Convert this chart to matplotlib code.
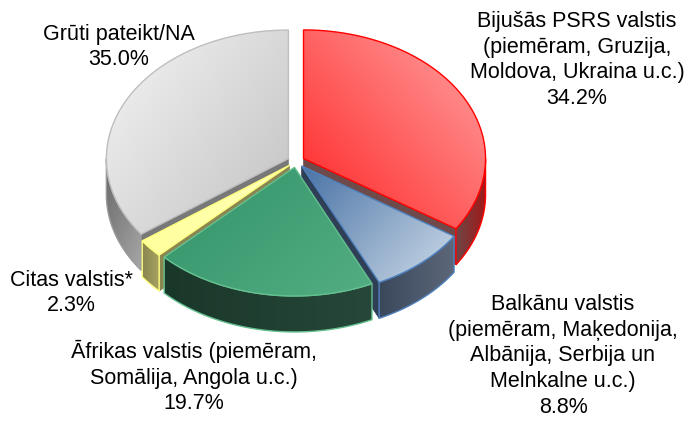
import numpy as np
import matplotlib
matplotlib.use("Agg")
import matplotlib.pyplot as plt
from matplotlib.patches import Polygon
from matplotlib.colors import LinearSegmentedColormap

# data, clockwise from 12 o'clock
labels = ["Bijušās PSRS valstis\n(piemēram, Gruzija,\nMoldova, Ukraina u.c.)",
          "Balkānu valstis\n(piemēram, Maķedonija,\nAlbānija, Serbija un\nMelnkalne u.c.)",
          "Āfrikas valstis (piemēram,\nSomālija, Angola u.c.)",
          "Citas valstis*",
          "Grūti pateikt/NA"]
values = [34.2, 8.8, 19.7, 2.3, 35.0]

# colours: top (c1, c2), wall (c1, c2), radial face, edge
top_cols = [("#ff2424", "#ffa3a3"), ("#4a73a6", "#cddbe8"), ("#33936a", "#53ad82"),
            ("#ffff9c", "#ffffb8"), ("#f4f4f4", "#c2c2c2")]
wall_cols = [("#6e4646", "#a31818"), ("#3b485c", "#5c6779"), ("#1a382a", "#26473a"),
             ("#88854f", "#a6a262"), ("#686868", "#a6a6a6")]
face_cols = ["#6e4a4a", "#2e3f56", "#1c3a2c", "#8a8652", "#787878"]
edge_cols = ["#ff0000", "#4f81bd", "#64c08e", "#ffff80", "#bebebe"]
label_pos = [(577, 60), (563, 356), (194, 377), (71, 293), (119, 47)]

cx, cy = 296, 161.4
rx, ry = 182, 128.6
depth = 36
explode = 0.047

fig = plt.figure(figsize=(6.87, 4.21), dpi=100)
ax = fig.add_axes([0, 0, 1, 1])
ax.axis("off")


def pt(ang, ox, oy, r=1.0, dz=0):
    a = np.radians(ang)
    return ox + rx * r * np.sin(a), oy - ry * r * np.cos(a) + dz


def grad_poly(xs, ys, c1, c2, direction, edge, z):
    poly = Polygon(np.c_[xs, ys], closed=True, facecolor="none",
                   edgecolor=edge, lw=1.0, zorder=z + 0.5)
    ax.add_patch(poly)
    x0, x1 = min(xs), max(xs)
    y0, y1 = min(ys), max(ys)
    gx, gy = np.meshgrid(np.linspace(0, 1, 60), np.linspace(0, 1, 60))
    d = np.radians(direction)
    t = gx * np.cos(d) + gy * np.sin(d)
    t = (t - t.min()) / (t.max() - t.min() + 1e-9)
    cmap = LinearSegmentedColormap.from_list("g", [c1, c2])
    im = ax.imshow(t, extent=(x0, x1, y1, y0), origin="upper", cmap=cmap,
                   aspect="auto", interpolation="bilinear", zorder=z)
    im.set_clip_path(poly)


bounds = np.concatenate([[0], np.cumsum(values)]) / sum(values) * 360
slices = []
for i in range(len(values)):
    a1, a2 = bounds[i], bounds[i + 1]
    mid = (a1 + a2) / 2
    ox, oy = pt(mid, cx, cy, explode)
    slices.append((i, a1, a2, mid, ox, oy))

# walls, back to front
order = sorted(slices, key=lambda s: -np.cos(np.radians(s[3])))
z = 1
for i, a1, a2, mid, ox, oy in order:
    # radial cut faces
    for a, nrm in ((a1, a1 - 90), (a2, a2 + 90)):
        if np.cos(np.radians(nrm)) < -0.05:
            rxp, ryp = pt(a, ox, oy)
            xs = [ox, rxp, rxp, ox]
            ys = [oy, ryp, ryp + depth, oy + depth]
            ax.add_patch(Polygon(np.c_[xs, ys], closed=True, facecolor=face_cols[i],
                                 edgecolor=face_cols[i], lw=0.5, zorder=z))
            z += 1
    # outer wall
    w1, w2 = max(a1, 90), min(a2, 270)
    if w2 > w1:
        angs = np.linspace(w1, w2, 80)
        tx, ty = pt(angs, ox, oy)
        xs = np.concatenate([tx, tx[::-1]])
        ys = np.concatenate([ty, ty[::-1] + depth])
        grad_poly(xs, ys, wall_cols[i][0], wall_cols[i][1], 0 if i != 4 else 50,
                  edge_cols[i] if i != 4 else "#9a9a9a", z)
        z += 1

# tops
top_dirs = [-45, 35, 35, 0, 40]
for i, a1, a2, mid, ox, oy in slices:
    angs = np.linspace(a1, a2, 120)
    tx, ty = pt(angs, ox, oy)
    xs = np.concatenate([[ox], tx])
    ys = np.concatenate([[oy], ty])
    c1, c2 = top_cols[i]
    grad_poly(xs, ys, c1, c2, top_dirs[i], edge_cols[i], 20 + i)

# labels
for i, (lx, ly) in enumerate(label_pos):
    ax.text(lx, ly, f"{labels[i]}\n{values[i]:.1f}%", ha="center", va="center",
            fontsize=15.5, family=["Liberation Sans", "DejaVu Sans"],
            linespacing=1.3, color="black", zorder=40)

ax.set_xlim(0, 687)
ax.set_ylim(421, 0)
fig.savefig("out.png", dpi=100)
